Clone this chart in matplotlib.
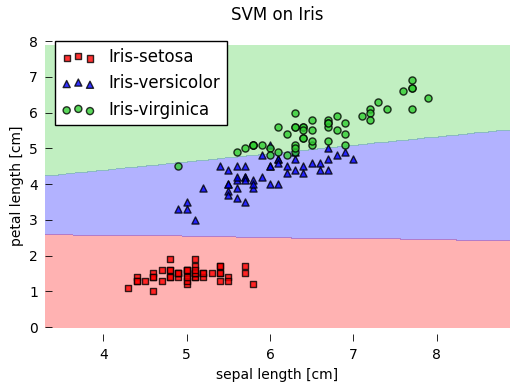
import numpy as np
import matplotlib
matplotlib.use("Agg")
import matplotlib.pyplot as plt

# ---- data (Iris: sepal length, petal length) ----
classes = ["Iris-setosa", "Iris-versicolor", "Iris-virginica"]

setosa_sepal = [5.1, 4.9, 4.7, 4.6, 5.0, 5.4, 4.6, 5.0, 4.4, 4.9, 5.4, 4.8, 4.8, 4.3, 5.8, 5.7, 5.4, 5.1, 5.7, 5.1,
                5.4, 5.1, 4.6, 5.1, 4.8, 5.0, 5.0, 5.2, 5.2, 4.7, 4.8, 5.4, 5.2, 5.5, 4.9, 5.0, 5.5, 4.9, 4.4, 5.1,
                5.0, 4.5, 4.4, 5.0, 5.1, 4.8, 5.1, 4.6, 5.3, 5.0]
setosa_petal = [1.4, 1.4, 1.3, 1.5, 1.4, 1.7, 1.4, 1.5, 1.4, 1.5, 1.5, 1.6, 1.4, 1.1, 1.2, 1.5, 1.3, 1.4, 1.7, 1.5,
                1.7, 1.5, 1.0, 1.7, 1.9, 1.6, 1.6, 1.5, 1.4, 1.6, 1.6, 1.5, 1.5, 1.4, 1.5, 1.2, 1.3, 1.5, 1.3, 1.5,
                1.3, 1.3, 1.3, 1.6, 1.9, 1.4, 1.6, 1.4, 1.5, 1.4]

versicolor_sepal = [7.0, 6.4, 6.9, 5.5, 6.5, 5.7, 6.3, 4.9, 6.6, 5.2, 5.0, 5.9, 6.0, 6.1, 5.6, 6.7, 5.6, 5.8, 6.2, 5.6,
                    5.9, 6.1, 6.3, 6.1, 6.4, 6.6, 6.8, 6.7, 6.0, 5.7, 5.5, 5.5, 5.8, 6.0, 5.4, 6.0, 6.7, 6.3, 5.6, 5.5,
                    5.5, 6.1, 5.8, 5.0, 5.6, 5.7, 5.7, 6.2, 5.1, 5.7]
versicolor_petal = [4.7, 4.5, 4.9, 4.0, 4.6, 4.5, 4.7, 3.3, 4.6, 3.9, 3.5, 4.2, 4.0, 4.7, 3.6, 4.4, 4.5, 4.1, 4.5, 3.9,
                    4.8, 4.0, 4.9, 4.7, 4.3, 4.4, 4.8, 5.0, 4.5, 3.5, 3.8, 3.7, 3.9, 5.1, 4.5, 4.5, 4.7, 4.4, 4.1, 4.0,
                    4.4, 4.6, 4.0, 3.3, 4.2, 4.2, 4.2, 4.3, 3.0, 4.1]

virginica_sepal = [6.3, 5.8, 7.1, 6.3, 6.5, 7.6, 4.9, 7.3, 6.7, 7.2, 6.5, 6.4, 6.8, 5.7, 5.8, 6.4, 6.5, 7.7, 7.7, 6.0,
                   6.9, 5.6, 7.7, 6.3, 6.7, 7.2, 6.2, 6.1, 6.4, 7.2, 7.4, 7.9, 6.4, 6.3, 6.1, 7.7, 6.3, 6.4, 6.0, 6.9,
                   6.7, 6.9, 5.8, 6.8, 6.7, 6.7, 6.3, 6.5, 6.2, 5.9]
virginica_petal = [6.0, 5.1, 5.9, 5.6, 5.8, 6.6, 4.5, 6.3, 5.8, 6.1, 5.1, 5.3, 5.5, 5.0, 5.1, 5.3, 5.5, 6.7, 6.9, 5.0,
                   5.7, 4.9, 6.7, 4.9, 5.7, 6.0, 4.8, 4.9, 5.6, 5.8, 6.1, 6.4, 5.6, 5.1, 5.6, 6.1, 5.6, 5.5, 4.8, 5.4,
                   5.6, 5.1, 5.1, 5.9, 5.7, 5.2, 5.0, 5.2, 5.4, 5.1]

# decision boundaries (petal length at the grid's x ends)
boundary_x = [3.3, 8.88]
boundary_setosa_versicolor = [2.59, 2.42]
boundary_versicolor_virginica = [4.22, 5.52]

xticks = [4, 5, 6, 7, 8]
yticks = [0, 1, 2, 3, 4, 5, 6, 7, 8]

# ---- plot ----
plt.rcParams["font.family"] = "DejaVu Sans"
fig = plt.figure(figsize=(5.2, 3.91), dpi=100)
ax = fig.add_axes([45 / 520, 1 - 341 / 391, 465 / 520, (341 - 31.4) / 391])

res = 0.02
all_sepal = np.array(setosa_sepal + versicolor_sepal + virginica_sepal)
all_petal = np.array(setosa_petal + versicolor_petal + virginica_petal)
xx, yy = np.meshgrid(np.arange(all_sepal.min() - 1, all_sepal.max() + 1, res),
                     np.arange(all_petal.min() - 1, all_petal.max() + 1, res))
b1 = np.interp(xx, boundary_x, boundary_setosa_versicolor)
b2 = np.interp(xx, boundary_x, boundary_versicolor_virginica)
Z = np.where(yy < b1, 0, np.where(yy > b2, 2, 1))

region_colors = ["red", "blue", "limegreen"]
ax.contourf(xx, yy, Z, levels=[-0.5, 0.5, 1.5, 2.5], colors=region_colors, alpha=0.3)

ax.scatter(setosa_sepal, setosa_petal, c="red", marker="s", s=20, alpha=0.8,
           edgecolors="black", linewidths=1.0, label=classes[0])
ax.scatter(versicolor_sepal, versicolor_petal, c="blue", marker="^", s=26, alpha=0.8,
           edgecolors="black", linewidths=1.0, label=classes[1])
ax.scatter(virginica_sepal, virginica_petal, c="limegreen", marker="o", s=26, alpha=0.8,
           edgecolors="black", linewidths=1.0, label=classes[2])

ax.set_xlim(3.3, 8.88)
ax.set_ylim(-0.39, 8.27)
ax.set_xticks(xticks)
ax.set_yticks(yticks)
for s in ax.spines.values():
    s.set_visible(False)
ax.tick_params(direction="in", length=5, width=0.6, labelsize=10, pad=5,
               top=False, right=False)

ax.set_xlabel("sepal length [cm]", fontsize=10)
ax.set_ylabel("petal length [cm]", fontsize=10)
ax.set_title("SVM on Iris", fontsize=12, pad=8)

leg = ax.legend(loc="upper left", scatterpoints=3, fontsize=12, fancybox=False,
                framealpha=1, edgecolor="black", borderaxespad=0.6, handlelength=2.0,
                handletextpad=0.8)
leg.get_frame().set_linewidth(1.0)

fig.savefig("out.png", dpi=100)
